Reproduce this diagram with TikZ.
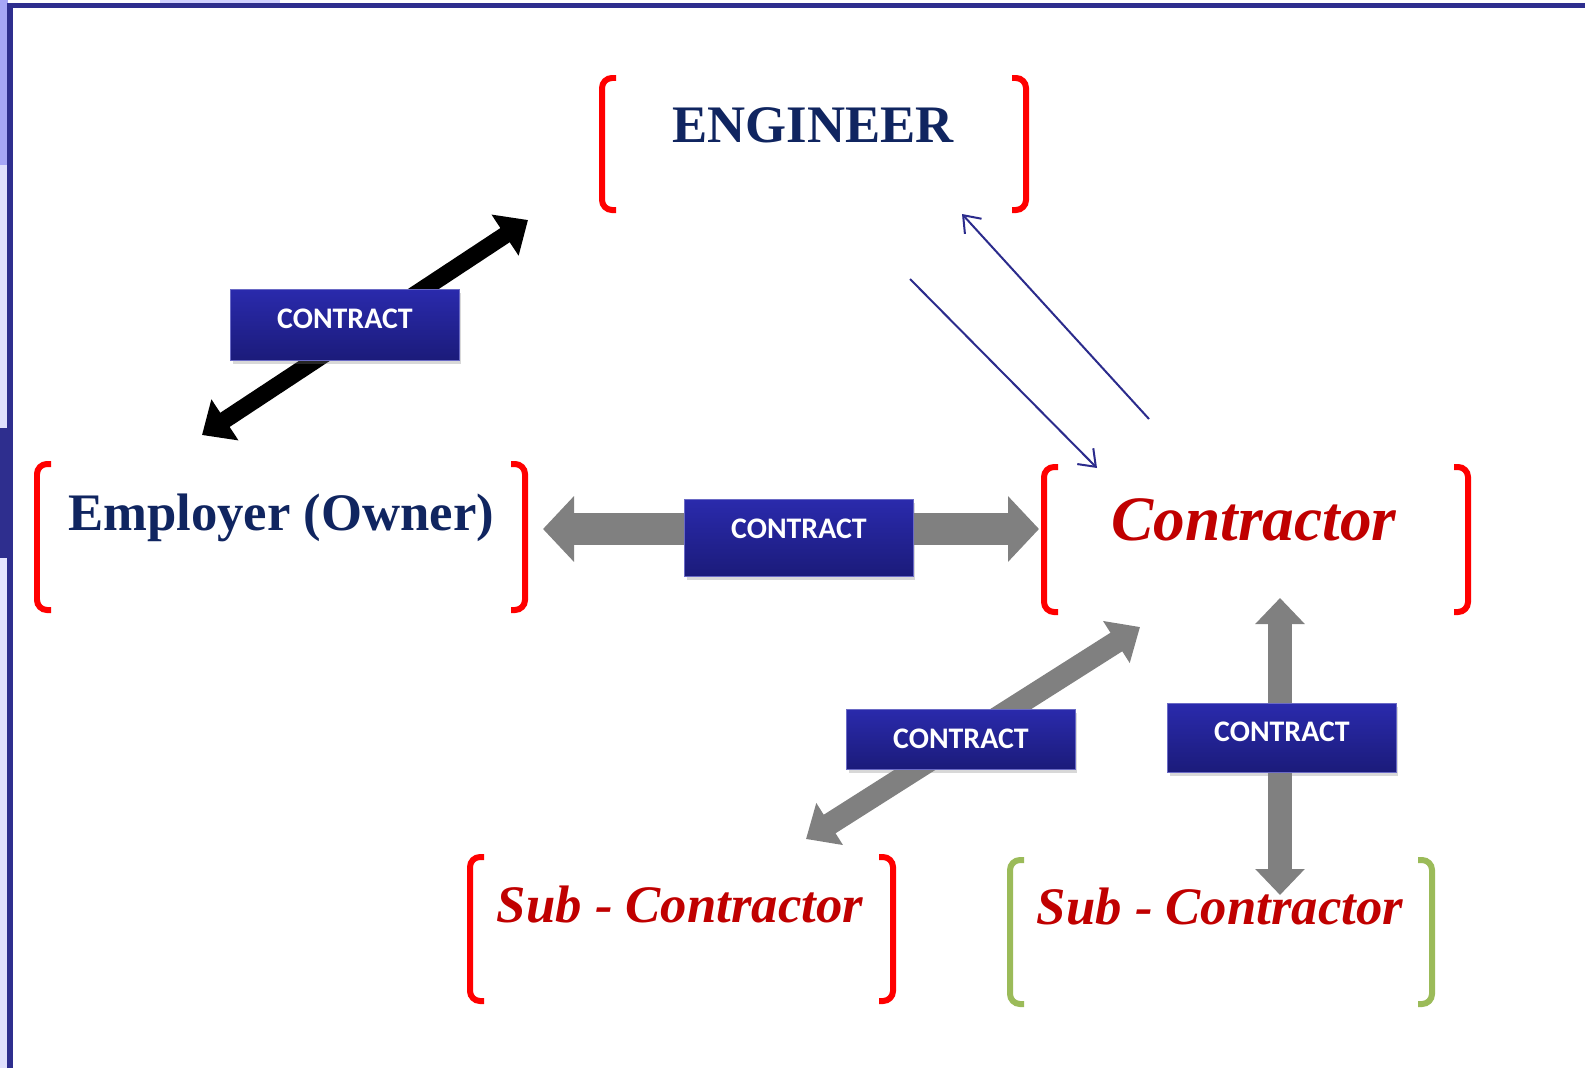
\documentclass[tikz,border=0pt]{standalone}
\usepackage{fontspec}
\setmainfont{Liberation Serif}
\newfontfamily\boxfont{Carlito}
\usetikzlibrary{arrows.meta,shadows}

\definecolor{navy}{RGB}{16,37,96}
\definecolor{darkred}{RGB}{192,0,0}
\definecolor{frameblue}{RGB}{46,46,142}
\definecolor{boxtop}{RGB}{42,42,172}
\definecolor{boxbot}{RGB}{27,27,122}
\definecolor{subgreen}{RGB}{155,187,89}
\definecolor{arrowgray}{RGB}{128,128,128}
\definecolor{linkblue}{RGB}{43,43,140}

\begin{document}
\begin{tikzpicture}[x=0.02cm, y=-0.02cm,
  party/.style={font=\bfseries\fontsize{30}{30}\selectfont, text=navy, inner sep=0pt},
  firm/.style={font=\bfseries\itshape\fontsize{30}{30}\selectfont, text=darkred, inner sep=0pt},
  brak/.style={line width=0.12cm, rounded corners=0.2cm},
  contract/.style={minimum width=4.58cm, text height=0.38cm, text depth=0cm,
    top color=boxtop, bottom color=boxbot, draw=boxtop!70!white, line width=0.5pt,
    text=white, font=\boxfont\bfseries\fontsize{17}{17}\selectfont,
    drop shadow={opacity=0.3, shadow xshift=0.04cm, shadow yshift=-0.07cm}},
  fat/.style={line width=#1, draw=arrowgray},
  thin/.style={draw=linkblue, line width=0.04cm, -{Straight Barb[length=0.3cm, width=0.45cm]}}]
\useasboundingbox (0,0) rectangle (1585,1068);

% slide frame
\fill[white] (0,0) rectangle (1585,1068);
\fill[black!5!blue!12] (0,0) rectangle (8,1068);
\fill[black!10!blue!35] (0,0) rectangle (8,165);
\fill[frameblue] (0,428) rectangle (8,558);
\fill[black!3!blue!10] (0,558) rectangle (8,620);
\fill[blue!18] (160,0) rectangle (280,3);
\draw[frameblue, line width=0.11cm] (10,1068) -- (10,5.5) -- (1585,5.5);

% parties
\node[party] (eng) at (813,125) {ENGINEER};
\node[party] (emp) at (281,518) {Employer (Owner)};
\node[firm, font=\bfseries\itshape\fontsize{36}{36}\selectfont] (con) at (1254,520) {Contractor};
\node[firm] (sub1) at (680,905) {Sub - Contractor};
\node[firm] (sub2) at (1220,907) {Sub - Contractor};

\draw[brak, red] (616,78) -- (602,78) -- (602,210) -- (616,210);
\draw[brak, red] (1012,78) -- (1026,78) -- (1026,210) -- (1012,210);
\draw[brak, red] (51,464) -- (37,464) -- (37,610) -- (51,610);
\draw[brak, red] (511,464) -- (525,464) -- (525,610) -- (511,610);
\draw[brak, red] (1058,467) -- (1044,467) -- (1044,612) -- (1058,612);
\draw[brak, red] (1454,467) -- (1468,467) -- (1468,612) -- (1454,612);
\draw[brak, red] (484,857) -- (470,857) -- (470,1001) -- (484,1001);
\draw[brak, red] (879,857) -- (893,857) -- (893,1001) -- (879,1001);
\draw[brak, subgreen] (1024,860) -- (1010,860) -- (1010,1004) -- (1024,1004);
\draw[brak, subgreen] (1418,860) -- (1432,860) -- (1432,1004) -- (1418,1004);

% arrow ends
\coordinate (a1) at (202,435);
\coordinate (a2) at (528,220);
\coordinate (b1) at (543,529);
\coordinate (b2) at (1039,529);
\coordinate (c1) at (806,839);
\coordinate (c2) at (1140,627);
\coordinate (d1) at (1280,598);
\coordinate (d2) at (1280,895);
\coordinate (e1) at (910,279);
\coordinate (e2) at (1097,468);
\coordinate (f1) at (1149,419);
\coordinate (f2) at (962,214);

\draw[line width=0.34cm, {Triangle[length=0.55cm, width=0.95cm]}-{Triangle[length=0.55cm, width=0.95cm]}] (a1) -- (a2);
\draw[fat=0.64cm, arrowgray, {Triangle[length=0.62cm, width=1.28cm]}-{Triangle[length=0.62cm, width=1.28cm]}] (b1) -- (b2);
\draw[fat=0.44cm, arrowgray, {Triangle[length=0.56cm, width=0.96cm]}-{Triangle[length=0.56cm, width=0.96cm]}] (c1) -- (c2);
\draw[fat=0.48cm, arrowgray, {Triangle[length=0.52cm, width=0.96cm]}-{Triangle[length=0.52cm, width=0.96cm]}] (d1) -- (d2);
\draw[thin] (e1) -- (e2);
\draw[thin] (f1) -- (f2);

% contract boxes
\node[contract, minimum height=1.42cm, text depth=0.24cm] (k1) at (345,325) {CONTRACT};
\node[contract, minimum height=1.54cm, text depth=0.36cm] (k2) at (799,538) {CONTRACT};
\node[contract, minimum height=1.2cm] (k3) at (961,739) {CONTRACT};
\node[contract, minimum height=1.38cm, text depth=0.24cm] (k4) at (1282,738) {CONTRACT};
\end{tikzpicture}
\end{document}
